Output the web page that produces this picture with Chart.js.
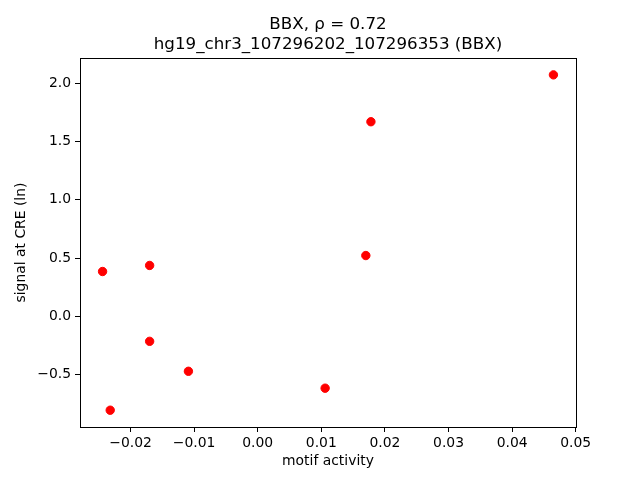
<!DOCTYPE html>
<html>
<head>
<meta charset="utf-8">
<script src="https://cdn.jsdelivr.net/npm/chart.js@4/dist/chart.umd.min.js"></script>
<style>
  html, body { margin: 0; padding: 0; background: #fff; }
  #wrap { width: 640px; height: 480px; }
</style>
</head>
<body>
<div id="wrap"><canvas id="chart" width="640" height="480"></canvas></div>
<script>
// values
const motifActivity = [0.0465, 0.0178, 0.0170, -0.0244, -0.0170, -0.0170, -0.0109, 0.0106, -0.0232];
const signalAtCRE   = [2.072, 1.670, 0.522, 0.385, 0.437, -0.214, -0.471, -0.616, -0.805];
const xTicks = [-0.02, -0.01, 0.00, 0.01, 0.02, 0.03, 0.04, 0.05];
const yTicks = [-0.5, 0.0, 0.5, 1.0, 1.5, 2.0];
const xRange = [-0.02795, 0.05005];
const yRange = [-0.949, 2.216];

const points = motifActivity.map((x, i) => ({ x: x, y: signalAtCRE[i] }));

const FONT = "DejaVu Sans";

// matplotlib draws a box round the axes
const frameBox = {
  id: "frameBox",
  afterDraw(chart) {
    const a = chart.chartArea;
    const ctx = chart.ctx;
    ctx.save();
    ctx.strokeStyle = "#000";
    ctx.lineWidth = 1;
    ctx.strokeRect(Math.round(a.left) + 0.5, Math.round(a.top) + 0.5,
                   Math.round(a.right - a.left), Math.round(a.bottom - a.top));
    ctx.restore();
  }
};

new Chart(document.getElementById("chart").getContext("2d"), {
  type: "scatter",
  data: {
    datasets: [{
      data: points,
      backgroundColor: "#ff0000",
      borderColor: "#ff0000",
      pointRadius: 4.2,
      pointHoverRadius: 4.2
    }]
  },
  options: {
    responsive: false,
    animation: false,
    layout: { padding: { left: 0, right: 64, top: 0, bottom: 0 } },
    plugins: {
      legend: { display: false },
      tooltip: { enabled: false },
      title: {
        display: true,
        fullSize: false,
        text: ["BBX, ρ = 0.72", "hg19_chr3_107296202_107296353 (BBX)"],
        color: "#000",
        font: { family: FONT, size: 16.7, weight: "normal", lineHeight: 1.2 },
        padding: { top: 15, bottom: 3 }
      }
    },
    scales: {
      x: {
        type: "linear",
        min: xRange[0],
        max: xRange[1],
        afterBuildTicks(scale) { scale.ticks = xTicks.map(v => ({ value: v })); },
        afterFit(scale) { scale.height = 53; },
        border: { display: true, color: "#000", width: 1 },
        grid: { display: true, drawOnChartArea: false, drawTicks: true, tickLength: 5, color: "#000" },
        ticks: {
          color: "#000",
          padding: 3,
          maxRotation: 0,
          font: { family: FONT, size: 13.9 },
          callback: v => (v < 0 ? "\u2212" : "") + Math.abs(v).toFixed(2)
        },
        title: {
          display: true,
          text: "motif activity",
          color: "#000",
          font: { family: FONT, size: 13.9 },
          padding: { top: 2, bottom: 10 }
        }
      },
      y: {
        type: "linear",
        min: yRange[0],
        max: yRange[1],
        afterBuildTicks(scale) { scale.ticks = yTicks.map(v => ({ value: v })); },
        afterFit(scale) { scale.width = 80; },
        border: { display: true, color: "#000", width: 1 },
        grid: { display: true, drawOnChartArea: false, drawTicks: true, tickLength: 5, color: "#000" },
        ticks: {
          color: "#000",
          padding: 4,
          font: { family: FONT, size: 13.9 },
          callback: v => (v < 0 ? "\u2212" : "") + Math.abs(v).toFixed(1)
        },
        title: {
          display: true,
          text: "signal at CRE (ln)",
          color: "#000",
          font: { family: FONT, size: 13.9 },
          padding: { top: 13, bottom: 6 }
        }
      }
    }
  },
  plugins: [frameBox]
});
</script>
</body>
</html>
